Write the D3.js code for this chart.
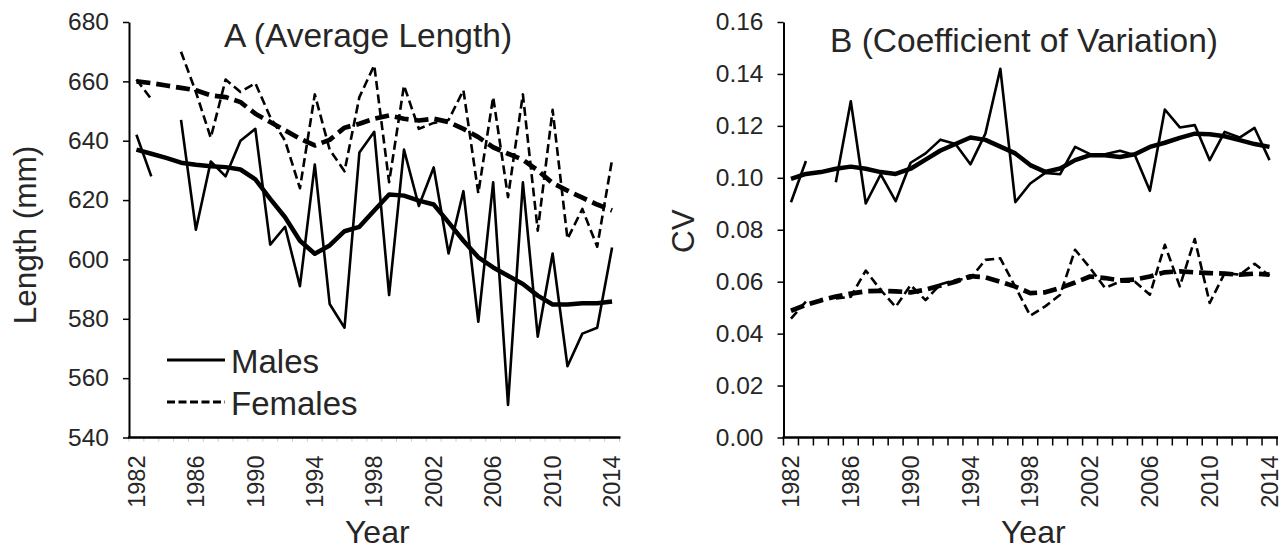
<html>
<head>
<title>Length and CV by year</title>
<script src="https://d3js.org/d3.v7.min.js"></script>
</head>
<style>
  body { margin: 0; background: #fff; }
  text { font-family: "Liberation Sans", Arial, sans-serif; fill: #262626; }
  .axis path, .axis line { stroke: #000; }
</style>
<body>
<svg id="chart" width="1285" height="549"></svg>
<script>
// years on the category axis, only every 4th one is labelled
const years = [1982,1983,1984,1985,1986,1987,1988,1989,1990,1991,1992,1993,1994,1995,1996,1997,1998,
               1999,2000,2001,2002,2003,2004,2005,2006,2007,2008,2009,2010,2011,2012,2013,2014];
const yearLabels = [1982,1986,1990,1994,1998,2002,2006,2010,2014];

// A: average length (mm)
const malesLength = [642,628,null,647,610,633,628,640,644,605,611,591,632,585,577,636,643,
                     588,637,618,631,602,623,579,626,551,626,574,602,564,575,577,604];
const malesLengthTrend = [637,635.6,634.2,632.6,631.9,631.4,631.1,630.3,627,620.4,614.2,606.3,601.9,604.7,609.5,611,616.5,
                          621.9,621.5,619.8,618.5,612.5,606.3,600.7,597.3,594.5,591.7,587.8,584.8,584.8,585.2,585.2,585.8];
const femalesLength = [660.6,654,null,670,656.4,641,660.6,656.4,659.4,648,640,624,655.6,637,629.7,654.7,665.4,
                       626,658.6,644,646,647,657,622.3,654.7,621,655.6,609.7,650.4,606.9,617,604.3,633.6];
const femalesLengthTrend = [660,659.4,658.6,657.8,657,655.3,654.7,653,649.1,646.3,643.5,640.7,638.4,640.3,644.4,645.7,647.4,
                            648.5,647.4,646.8,647.4,646.3,644,641.2,637.8,635.6,633.6,630,625.7,623.2,620.8,618.5,616.5];
const lengthTicks = [540,560,580,600,620,640,660,680];

// B: coefficient of variation
const malesCV = [0.0906,0.1065,null,0.0983,0.1295,0.0901,0.1013,0.091,0.1058,0.1094,0.1147,0.113,0.1052,0.117,0.142,0.0906,0.0978,
                 0.1019,0.1014,0.1119,0.1091,0.1091,0.1104,0.1087,0.095,0.1263,0.1194,0.1203,0.1068,0.1177,0.1155,0.1192,0.1068];
const malesCVTrend = [0.0996,0.1015,0.1022,0.1035,0.1043,0.1035,0.1022,0.1015,0.1035,0.107,0.1105,0.113,0.1155,0.1146,0.112,0.1094,0.1049,
                      0.1023,0.1036,0.1068,0.1087,0.1087,0.108,0.1091,0.1119,0.1135,0.1154,0.117,0.1168,0.116,0.1145,0.113,0.1119];
const femalesCV = [0.0458,0.0523,null,0.0535,0.0542,0.0643,0.0568,0.0503,0.0587,0.0529,0.059,0.0606,0.0613,0.0684,0.069,0.058,0.0469,
                   0.0505,0.055,0.0723,0.0653,0.0576,0.06,0.06,0.055,0.0742,0.0582,0.0764,0.0518,0.0633,0.0627,0.0669,0.0623];
const femalesCVTrend = [0.0488,0.0511,0.0528,0.0543,0.0554,0.0563,0.0565,0.0563,0.0559,0.0569,0.0585,0.06,0.0621,0.0617,0.06,0.0581,0.0556,
                        0.0559,0.0576,0.0597,0.062,0.0614,0.0605,0.0608,0.062,0.0636,0.064,0.0636,0.0633,0.0631,0.0627,0.0631,0.0627];
const cvTicks = [0,0.02,0.04,0.06,0.08,0.10,0.12,0.14,0.16];

const svg = d3.select("svg#chart");
const plotTop = 22, plotBottom = 437.5;

function drawPanel(p) {
  const x = d3.scaleBand().domain(years).range([p.left, p.right]).padding(0);
  const y = d3.scaleLinear().domain([p.ticks[0], p.ticks[p.ticks.length-1]]).range([plotBottom, plotTop]);
  const cx = d => x(d) + x.bandwidth()/2;
  const g = svg.append("g");

  // x tick marks between categories
  const edges = years.map(d => x(d)).concat([p.right]);
  g.selectAll(".xtick").data(edges).enter().append("line")
    .attr("x1", d => d).attr("x2", d => d)
    .attr("y1", plotBottom).attr("y2", plotBottom + p.xTickLen)
    .attr("stroke", p.xTickColor).attr("stroke-width", p.xTickWidth);

  // y axis
  const yAxis = d3.axisLeft(y).tickValues(p.ticks).tickSizeInner(6).tickSizeOuter(0).tickPadding(14).tickFormat(p.fmt);
  const ya = g.append("g").attr("class", "axis").attr("transform", "translate(" + p.left + ",0)").call(yAxis);
  ya.select(".domain").attr("stroke-width", 2);
  ya.selectAll(".tick line").attr("stroke-width", 1.5);
  ya.selectAll("text").attr("font-size", 24.5).style("font-family", "Liberation Sans, Arial, sans-serif").attr("fill", "#262626");

  // x axis line
  g.append("line").attr("x1", p.left - 1).attr("x2", p.right + 1).attr("y1", plotBottom).attr("y2", plotBottom)
    .attr("stroke", "#000").attr("stroke-width", 2.5);

  g.selectAll(".xlab").data(yearLabels).enter().append("text")
    .attr("transform", d => "translate(" + cx(d) + "," + (plotBottom + 18) + ") rotate(-90)")
    .attr("text-anchor", "end").attr("dy", "0.35em").attr("font-size", 23.5)
    .text(d => d);

  g.append("text").attr("x", (p.left + p.right)/2 + 3).attr("y", 543)
    .attr("text-anchor", "middle").attr("font-size", 32).text("Year");

  g.append("text").attr("transform", "translate(" + p.yLabelX + "," + p.yLabelY + ") rotate(-90)")
    .attr("text-anchor", "middle").attr("font-size", 31.5).text(p.yLabel);

  g.append("text").attr("x", p.titleX).attr("y", p.titleY).attr("font-size", 33.5).text(p.title);

  const series = [
    {values: p.males, width: 2.6, dash: null},
    {values: p.females, width: 2.6, dash: "9,4.5"},
    {values: p.malesTrend, width: 4.5, dash: null},
    {values: p.femalesTrend, width: 4.7, dash: "14,6"}
  ];
  const line = d3.line()
    .defined(d => d.v !== null)
    .x(d => cx(d.year))
    .y(d => y(d.v));
  series.forEach(s => {
    g.append("path")
      .datum(years.map((yr, i) => ({year: yr, v: s.values[i]})))
      .attr("d", line)
      .attr("fill", "none")
      .attr("stroke", "#000")
      .attr("stroke-width", s.width)
      .attr("stroke-linejoin", "round")
      .attr("stroke-dasharray", s.dash);
  });
}

drawPanel({
  left: 129, right: 619.5, ticks: lengthTicks, fmt: d3.format("d"),
  males: malesLength, malesTrend: malesLengthTrend, females: femalesLength, femalesTrend: femalesLengthTrend,
  title: "A (Average Length)", titleX: 224, titleY: 47,
  yLabel: "Length (mm)", yLabelX: 36, yLabelY: 235,
  xTickLen: 4, xTickColor: "#c8c8c8", xTickWidth: 1
});

drawPanel({
  left: 783.5, right: 1277, ticks: cvTicks, fmt: d3.format(".2f"),
  males: malesCV, malesTrend: malesCVTrend, females: femalesCV, femalesTrend: femalesCVTrend,
  title: "B (Coefficient of Variation)", titleX: 830, titleY: 52,
  yLabel: "CV", yLabelX: 694, yLabelY: 231,
  xTickLen: 8, xTickColor: "#000", xTickWidth: 1.5
});

// legend, panel A
const legend = svg.append("g");
const legendItems = [{label: "Males", dash: null, y: 360}, {label: "Females", dash: "8,3.5", y: 402}];
legend.selectAll("line").data(legendItems).enter().append("line")
  .attr("x1", 167).attr("x2", 225).attr("y1", d => d.y).attr("y2", d => d.y)
  .attr("stroke", "#000").attr("stroke-width", 2.8).attr("stroke-dasharray", d => d.dash);
legend.selectAll("text").data(legendItems).enter().append("text")
  .attr("x", 231).attr("y", d => d.y + 13).attr("font-size", 33).text(d => d.label);
</script>
</body>
</html>
